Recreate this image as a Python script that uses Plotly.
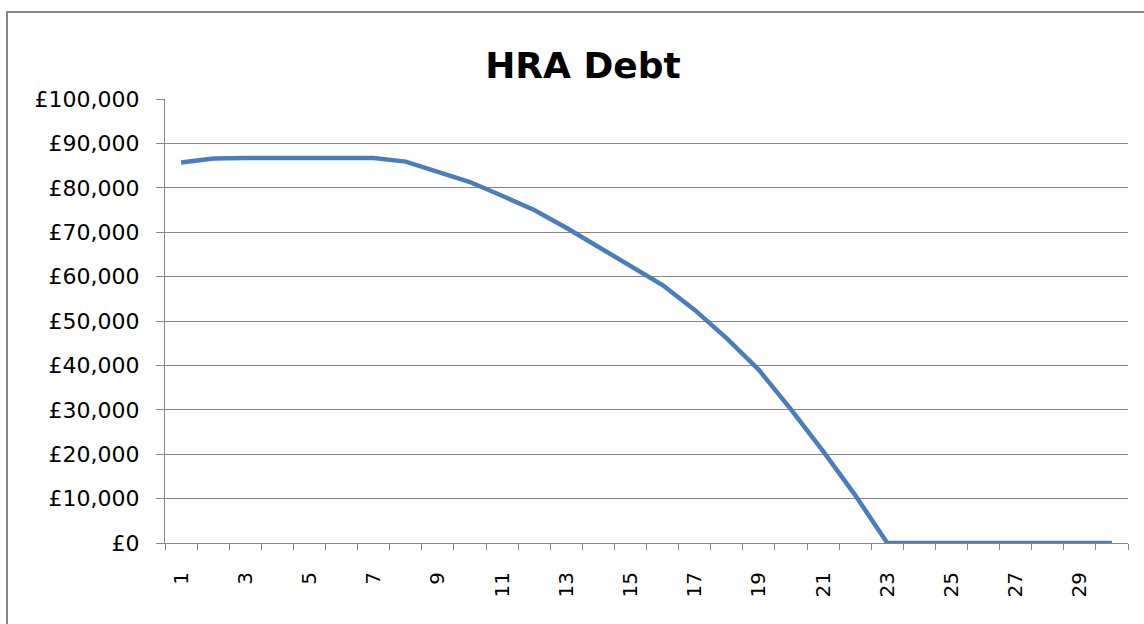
import plotly.graph_objects as go

years = list(range(1, 31))
debt = [85700, 86600, 86700, 86700, 86700, 86700, 86700, 85900, 83600, 81300,
        78200, 75000, 71000, 66700, 62600, 58100, 52500, 46100, 39000, 30100,
        20700, 10800, 0, 0, 0, 0, 0, 0, 0, 0]
tick_labels = [str(v) for v in range(1, 31, 2)]
y_ticks = list(range(0, 100001, 10000))
y_labels = ["£" + format(v, ",") for v in y_ticks]

GRAY = "#868686"

fig = go.Figure()
fig.add_trace(go.Scatter(x=years, y=debt, mode="lines",
                         line=dict(color="#4A7EBB", width=4.5), showlegend=False))

fig.update_layout(
    width=1144, height=624,
    margin=dict(l=165, r=16, t=99, b=81),
    paper_bgcolor="white", plot_bgcolor="white",
    title=dict(text="<b>HRA Debt</b>", x=583 / 1144, xanchor="center",
               y=1 - 65 / 624, yanchor="middle",
               font=dict(family="DejaVu Sans", size=36, color="black")),
    font=dict(family="DejaVu Sans", color="black"),
)
fig.update_xaxes(
    range=[0.5, 30.5], tickmode="array",
    tickvals=list(range(1, 31, 2)), ticktext=tick_labels,
    tickangle=-90, ticks="", showgrid=False, ticklabelstandoff=20,
    showline=True, linecolor=GRAY, linewidth=1,
    tickfont=dict(size=20, family="DejaVu Sans"),
    minor=dict(tickmode="linear", tick0=0.5, dtick=1, ticks="outside", ticklen=6,
               tickcolor=GRAY, showgrid=False),
    zeroline=False,
)
fig.update_yaxes(
    range=[0, 100000], tickmode="array", tickvals=y_ticks, ticktext=y_labels,
    ticks="outside", ticklen=8, tickcolor=GRAY, ticklabelstandoff=12,
    showgrid=True, gridcolor=GRAY, gridwidth=1,
    showline=True, linecolor=GRAY, linewidth=1, zeroline=False,
    tickfont=dict(size=22, family="DejaVu Sans"),
)
fig.add_shape(type="rect", xref="paper", yref="paper",
              x0=(7 - 165) / 963, x1=(1150 - 165) / 963,
              y0=(543 - 630) / 444, y1=(543 - 12) / 444,
              line=dict(color=GRAY, width=2), layer="below")

fig.write_html("out.html", config={"displayModeBar": False},
               post_script="document.body.style.margin='0px';")
